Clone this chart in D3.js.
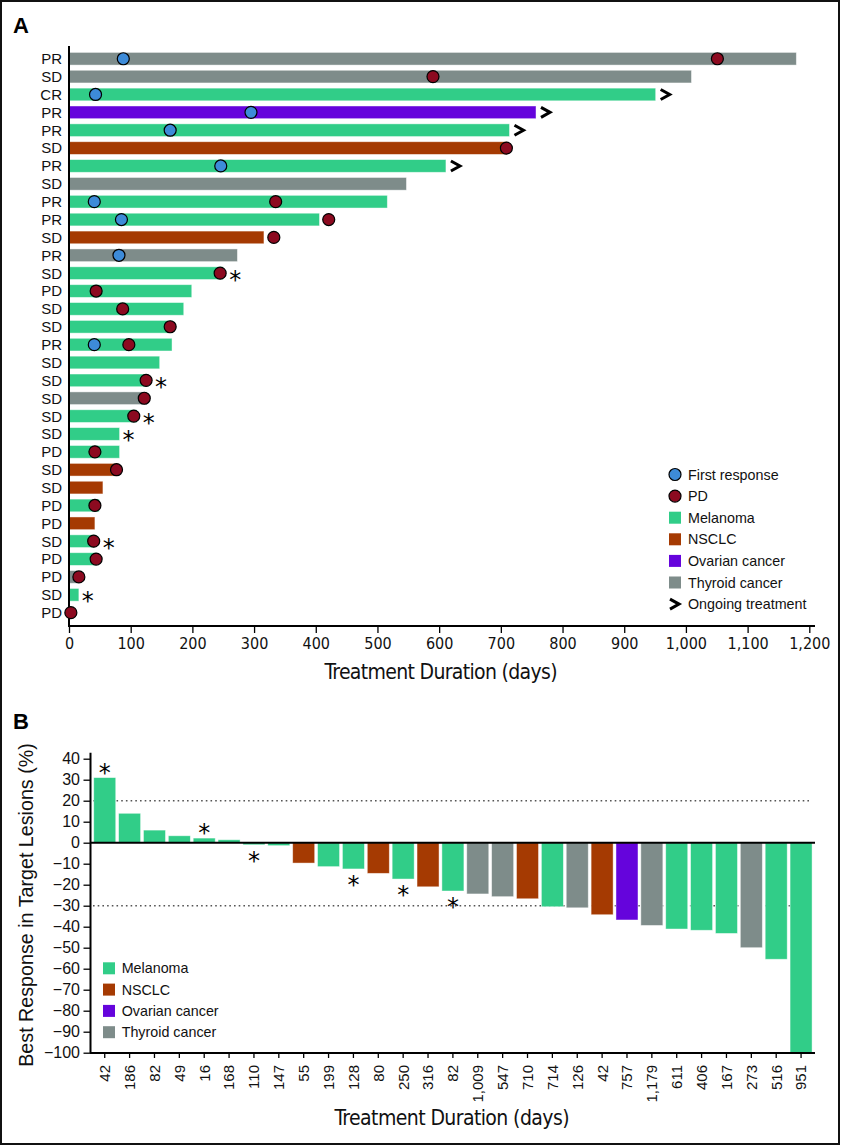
<!DOCTYPE html>
<html><head><meta charset="utf-8">
<script src="https://cdn.jsdelivr.net/npm/d3@7"></script>
<style>body{margin:0;background:#fff} svg{display:block}</style>
</head><body>
<svg id="chart" width="841" height="1146"></svg>
<script>
// ---------- Panel A data ----------
const rowLabels = ["PR","SD","CR","PR","PR","SD","PR","SD","PR","PR","SD","PR","SD","PD","SD","SD","PR","SD","SD","SD","SD","SD","PD","SD","SD","PD","PD","SD","PD","PD","SD","PD"];
const rowCancer = ["Thyroid cancer","Thyroid cancer","Melanoma","Ovarian cancer","Melanoma","NSCLC","Melanoma","Thyroid cancer","Melanoma","Melanoma","NSCLC","Thyroid cancer","Melanoma","Melanoma","Melanoma","Melanoma","Melanoma","Melanoma","Melanoma","Thyroid cancer","Melanoma","Melanoma","Melanoma","NSCLC","NSCLC","Melanoma","NSCLC","Melanoma","Melanoma","Thyroid cancer","Melanoma","Melanoma"];
const rowDays = [1179,1009,951,757,714,710,611,547,516,406,316,273,250,199,186,168,167,147,128,126,110,82,82,80,55,49,42,42,44,14,16,3];
const rowFirstResponse = [88,null,43,295,164,null,246,null,41,85,null,81,null,null,null,null,41,null,null,null,null,null,null,null,null,null,null,null,null,null,null,null];
const rowPD = [1051,590,null,null,null,709,null,null,335,421,332,null,245,44,87,164,97,null,125,122,105,null,42,77,null,42,null,40,44,16,null,3];
const rowOngoing = [false,false,true,true,true,false,true,false,false,false,false,false,false,false,false,false,false,false,false,false,false,false,false,false,false,false,false,false,false,false,false,false];
const rowAsterisk = [false,false,false,false,false,false,false,false,false,false,false,false,true,false,false,false,false,false,true,false,true,true,false,false,false,false,false,true,false,false,true,false];
const xTicksA = [0,100,200,300,400,500,600,700,800,900,1000,1100,1200];

// ---------- Panel B data ----------
const bDayLabels = ["42","186","82","49","16","168","110","147","55","199","128","80","250","316","82","1,009","547","710","714","126","42","757","1,179","611","406","167","273","516","951"];
const bCancer = ["Melanoma","Melanoma","Melanoma","Melanoma","Melanoma","Melanoma","Melanoma","Melanoma","NSCLC","Melanoma","Melanoma","NSCLC","Melanoma","NSCLC","Melanoma","Thyroid cancer","Thyroid cancer","NSCLC","Melanoma","Thyroid cancer","NSCLC","Ovarian cancer","Thyroid cancer","Melanoma","Melanoma","Melanoma","Thyroid cancer","Melanoma","Melanoma"];
const bValues = [31,14,6,3.3,2.2,1.4,-1,-1.4,-9.7,-11.4,-12.5,-14.6,-17.3,-21,-23,-24.4,-25.7,-26.7,-30.5,-31,-34.3,-36.8,-39.4,-41.1,-41.7,-43.2,-50,-55.5,-100];
const bAsterisk = [true,false,false,false,true,false,true,false,false,false,true,false,true,false,true,false,false,false,false,false,false,false,false,false,false,false,false,false,false];
const yTicksB = [40,30,20,10,0,-10,-20,-30,-40,-50,-60,-70,-80,-90,-100];
const refLines = [20,-30];

const cancerTypes = ["Melanoma","NSCLC","Ovarian cancer","Thyroid cancer"];
const cancerColors = ["#31cd88","#a53a02","#6504dc","#7e8c8a"];
const color = d3.scaleOrdinal().domain(cancerTypes).range(cancerColors);
const FR_COLOR = "#3d8bd8", PD_COLOR = "#8c0a20";

const SANS = "'Liberation Sans', Arial, Helvetica, sans-serif";
const NARROW = "'Liberation Sans Narrow', 'Arial Narrow', 'DejaVu Sans Condensed', sans-serif";

const svg = d3.select("#chart");
svg.append("rect").attr("x",1).attr("y",1).attr("width",838).attr("height",1143)
  .attr("fill","#fff").attr("stroke","#111").attr("stroke-width",2);

function asterisk(g, x, y) {
  g.append("text").attr("x", x).attr("y", y).attr("dy","0.6em")
    .attr("text-anchor","middle").attr("font-family","'DejaVu Sans', sans-serif")
    .attr("font-size",24).attr("fill","#000").text("*");
}
function chevron(g, x, y) {
  g.append("path").attr("d", `M${x},${y-5} L${x+9},${y} L${x},${y+5}`)
    .attr("fill","none").attr("stroke","#000").attr("stroke-width",3).attr("stroke-linejoin","miter");
}

// ================= Panel A =================
const gA = svg.append("g");
gA.append("text").attr("x",13).attr("y",33).attr("font-family",SANS).attr("font-weight","bold")
  .attr("font-size",22).text("A");

const xA = d3.scaleLinear().domain([0,1200]).range([69, 809.3]);
const yA = d3.scaleBand().domain(d3.range(rowLabels.length)).range([49.8, 621.6]).paddingInner(0.29).paddingOuter(0.145);

const rows = rowLabels.map((l,i)=>({i, label:l, cancer:rowCancer[i], days:rowDays[i], fr:rowFirstResponse[i], pd:rowPD[i], ongoing:rowOngoing[i], ast:rowAsterisk[i]}));

gA.selectAll("rect.bar").data(rows).join("rect").attr("class","bar")
  .attr("x", xA(0)).attr("y", d=>yA(d.i)).attr("width", d=>xA(d.days)-xA(0)).attr("height", yA.bandwidth())
  .attr("fill", d=>color(d.cancer)).attr("stroke","#fff").attr("stroke-opacity",0.55).attr("stroke-width",0.8);

// x axis A
const axA = d3.axisBottom(xA).tickValues(xTicksA).tickFormat(d3.format(",")).tickSize(7).tickSizeOuter(0);
const gax = gA.append("g").attr("transform","translate(0,626)").call(axA);
gax.select(".domain").attr("stroke","#000").attr("stroke-width",2).attr("d","M69,0H815");
gax.selectAll(".tick line").attr("stroke","#000").attr("stroke-width",1.3);
gax.selectAll(".tick text").attr("font-family",NARROW).attr("font-size",16).attr("fill","#111").attr("y",12).attr("dy","0.71em");

// y axis A line + labels
gA.append("line").attr("x1",69).attr("x2",69).attr("y1",46).attr("y2",627).attr("stroke","#000").attr("stroke-width",2);
gA.selectAll("text.rl").data(rows).join("text").attr("class","rl")
  .attr("x",62).attr("y",d=>yA(d.i)+yA.bandwidth()/2).attr("dy","0.36em").attr("text-anchor","end")
  .attr("font-family",SANS).attr("font-size",15).attr("fill","#111").text(d=>d.label);

const cy = d => yA(d.i)+yA.bandwidth()/2;
// dots
gA.selectAll("circle.fr").data(rows.filter(d=>d.fr!=null)).join("circle").attr("class","fr")
  .attr("cx",d=>xA(d.fr)).attr("cy",cy).attr("r",6).attr("fill",FR_COLOR).attr("stroke","#000").attr("stroke-width",1.2);
gA.selectAll("circle.pd").data(rows.filter(d=>d.pd!=null)).join("circle").attr("class","pd")
  .attr("cx",d=>xA(d.pd)).attr("cy",cy).attr("r",6).attr("fill",PD_COLOR).attr("stroke","#000").attr("stroke-width",1.2);
// ongoing
rows.filter(d=>d.ongoing).forEach(d=>chevron(gA, xA(d.days)+5, cy(d)));
// asterisks
rows.filter(d=>d.ast).forEach(d=>{
  const end = Math.max(xA(d.days), d.pd!=null ? xA(d.pd)+6 : 0);
  asterisk(gA, end+9, cy(d));
});

gA.append("text").attr("x",441).attr("y",679).attr("text-anchor","middle")
  .attr("font-family",NARROW).attr("font-size",21).attr("textLength",233).attr("lengthAdjust","spacing")
  .attr("fill","#111").text("Treatment Duration (days)");

// legend A
const legA = gA.append("g");
const legAItems = [
  {type:"circle", fill:FR_COLOR, label:"First response"},
  {type:"circle", fill:PD_COLOR, label:"PD"},
  ...cancerTypes.map(c=>({type:"rect", fill:color(c), label:c})),
  {type:"chev", label:"Ongoing treatment"}
];
legAItems.forEach((it,k)=>{
  const y = 474.5 + k*21.6, x = 675;
  if (it.type==="circle") legA.append("circle").attr("cx",x).attr("cy",y).attr("r",6).attr("fill",it.fill).attr("stroke","#000").attr("stroke-width",1.2);
  else if (it.type==="rect") legA.append("rect").attr("x",x-6).attr("y",y-6).attr("width",12).attr("height",12).attr("fill",it.fill);
  else chevron(legA, x-5, y);
  legA.append("text").attr("x",688).attr("y",y).attr("dy","0.36em").attr("font-family",SANS).attr("font-size",14.3).attr("fill","#111").text(it.label);
});

// ================= Panel B =================
const gB = svg.append("g");
gB.append("text").attr("x",13).attr("y",729).attr("font-family",SANS).attr("font-weight","bold")
  .attr("font-size",22).text("B");

const xB = d3.scaleBand().domain(d3.range(bValues.length)).range([92.3, 813.5]).paddingInner(0.115).paddingOuter(0.0575);
const yB = d3.scaleLinear().domain([-100,40]).range([1052.7, 758.7]);

// reference lines
gB.selectAll("line.ref").data(refLines).join("line").attr("class","ref")
  .attr("x1",93).attr("x2",811).attr("y1",d=>yB(d)).attr("y2",d=>yB(d))
  .attr("stroke","#555").attr("stroke-width",1.6).attr("stroke-dasharray","1.6,3.1");

const bdata = bValues.map((v,i)=>({i, v, cancer:bCancer[i], ast:bAsterisk[i]}));
gB.selectAll("rect.bb").data(bdata).join("rect").attr("class","bb")
  .attr("x",d=>xB(d.i)).attr("width",xB.bandwidth())
  .attr("y",d=>yB(Math.max(0,d.v))).attr("height",d=>Math.abs(yB(d.v)-yB(0)))
  .attr("fill",d=>color(d.cancer)).attr("stroke","#fff").attr("stroke-opacity",0.55).attr("stroke-width",0.8);

// zero line
gB.append("line").attr("x1",90).attr("x2",815).attr("y1",yB(0)).attr("y2",yB(0)).attr("stroke","#000").attr("stroke-width",2);

// asterisks
bdata.filter(d=>d.ast).forEach(d=>{
  const x = xB(d.i)+xB.bandwidth()/2;
  const y = d.v>=0 ? yB(d.v)-11 : yB(d.v)+10;
  asterisk(gB, x, y);
});

// y axis B
const ayB = d3.axisLeft(yB).tickValues(yTicksB).tickSize(7).tickSizeOuter(0);
const gay = gB.append("g").attr("transform","translate(90.5,0)").call(ayB);
gay.select(".domain").attr("d","M0,752.7V1053").attr("stroke","#000").attr("stroke-width",2);
gay.selectAll(".tick line").attr("stroke","#000").attr("stroke-width",1.3);
gay.selectAll(".tick text").attr("font-family",SANS).attr("font-size",16).attr("fill","#111").attr("x",-10.5);

// x axis B
const axB = d3.axisBottom(xB).tickFormat(i=>bDayLabels[i]).tickSize(5).tickSizeOuter(0);
const gbx = gB.append("g").attr("transform","translate(0,1053)").call(axB);
gbx.select(".domain").attr("d","M90,0H815").attr("stroke","#000").attr("stroke-width",2);
gbx.selectAll(".tick line").attr("stroke","#000").attr("stroke-width",1.3);
gbx.selectAll(".tick text").attr("font-family",SANS).attr("font-size",15).attr("fill","#111")
  .attr("transform","rotate(-90)").attr("text-anchor","end").attr("x",-12).attr("y",0).attr("dy","0.36em");

gB.append("text").attr("transform","translate(33,905) rotate(-90)").attr("text-anchor","middle")
  .attr("font-family",SANS).attr("font-size",19.7).attr("fill","#111").text("Best Response in Target Lesions (%)");

gB.append("text").attr("x",452).attr("y",1125).attr("text-anchor","middle")
  .attr("font-family",NARROW).attr("font-size",21).attr("textLength",235).attr("lengthAdjust","spacing")
  .attr("fill","#111").text("Treatment Duration (days)");

// legend B
cancerTypes.forEach((c,k)=>{
  const y = 968.3 + k*21.3;
  gB.append("rect").attr("x",103).attr("y",y-6).attr("width",12).attr("height",12).attr("fill",color(c));
  gB.append("text").attr("x",121.7).attr("y",y).attr("dy","0.36em").attr("font-family",SANS).attr("font-size",14.3).attr("fill","#111").text(c);
});
</script>
</body></html>
